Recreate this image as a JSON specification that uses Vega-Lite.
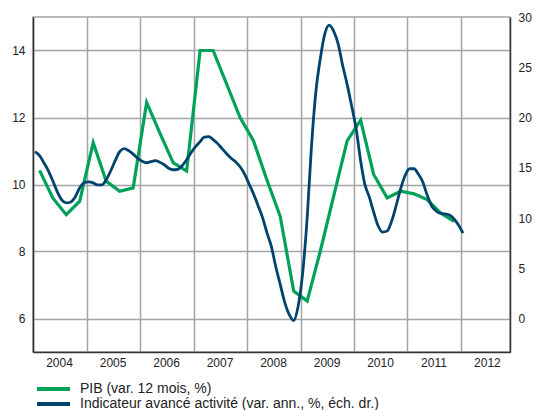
{
  "$schema": "https://vega.github.io/schema/vega-lite/v6.json",
  "width": 477,
  "height": 335,
  "autosize": {"type": "none"},
  "padding": {"left": 33, "top": 17, "right": 41, "bottom": 58},
  "background": "white",
  "config": {
    "font": "Liberation Sans",
    "view": {"stroke": "#a3a4a8", "strokeWidth": 1.5},
    "axis": {
      "labelFont": "Liberation Sans",
      "labelFontSize": 12,
      "labelColor": "#222222",
      "domainColor": "#333333",
      "domainWidth": 1.5,
      "gridColor": "#a3a4a8",
      "gridWidth": 1.5,
      "gridOpacity": 1,
      "ticks": false,
      "title": null
    }
  },
  "datasets": {
    "pib": [
      {"date": "2004-02-15", "value": 10.42},
      {"date": "2004-05-15", "value": 9.6},
      {"date": "2004-08-15", "value": 9.1},
      {"date": "2004-11-15", "value": 9.5},
      {"date": "2005-02-15", "value": 11.25},
      {"date": "2005-05-15", "value": 10.1},
      {"date": "2005-08-15", "value": 9.8},
      {"date": "2005-11-15", "value": 9.9},
      {"date": "2006-02-15", "value": 12.45},
      {"date": "2006-05-15", "value": 11.55},
      {"date": "2006-08-15", "value": 10.65},
      {"date": "2006-11-15", "value": 10.4},
      {"date": "2007-02-15", "value": 14.0},
      {"date": "2007-05-15", "value": 14.0},
      {"date": "2007-08-15", "value": 13.0},
      {"date": "2007-11-15", "value": 12.0},
      {"date": "2008-02-15", "value": 11.3},
      {"date": "2008-05-15", "value": 10.15},
      {"date": "2008-08-15", "value": 9.05},
      {"date": "2008-11-15", "value": 6.82},
      {"date": "2009-02-15", "value": 6.52},
      {"date": "2009-05-15", "value": 8.0},
      {"date": "2009-08-15", "value": 9.65},
      {"date": "2009-11-15", "value": 11.3},
      {"date": "2010-02-15", "value": 11.92},
      {"date": "2010-05-15", "value": 10.3},
      {"date": "2010-08-15", "value": 9.6},
      {"date": "2010-11-15", "value": 9.8},
      {"date": "2011-02-15", "value": 9.72},
      {"date": "2011-05-15", "value": 9.55},
      {"date": "2011-08-15", "value": 9.15},
      {"date": "2011-11-15", "value": 8.9}
    ],
    "ind": [
      {"date": "2004-01-15", "value": 16.6},
      {"date": "2004-02-15", "value": 16.2},
      {"date": "2004-03-15", "value": 15.5},
      {"date": "2004-04-15", "value": 14.7},
      {"date": "2004-05-15", "value": 13.7},
      {"date": "2004-06-15", "value": 12.6},
      {"date": "2004-07-15", "value": 11.8},
      {"date": "2004-08-15", "value": 11.5},
      {"date": "2004-09-15", "value": 11.6},
      {"date": "2004-10-15", "value": 12.1},
      {"date": "2004-11-15", "value": 13.0},
      {"date": "2004-12-15", "value": 13.5},
      {"date": "2005-01-15", "value": 13.6},
      {"date": "2005-02-15", "value": 13.5},
      {"date": "2005-03-15", "value": 13.3},
      {"date": "2005-04-15", "value": 13.3},
      {"date": "2005-05-15", "value": 13.8},
      {"date": "2005-06-15", "value": 14.7},
      {"date": "2005-07-15", "value": 15.7},
      {"date": "2005-08-15", "value": 16.6},
      {"date": "2005-09-15", "value": 16.9},
      {"date": "2005-10-15", "value": 16.7},
      {"date": "2005-11-15", "value": 16.35},
      {"date": "2005-12-15", "value": 15.95},
      {"date": "2006-01-15", "value": 15.65},
      {"date": "2006-02-15", "value": 15.5},
      {"date": "2006-03-15", "value": 15.6},
      {"date": "2006-04-15", "value": 15.7},
      {"date": "2006-05-15", "value": 15.55},
      {"date": "2006-06-15", "value": 15.3},
      {"date": "2006-07-15", "value": 14.95},
      {"date": "2006-08-15", "value": 14.8},
      {"date": "2006-09-15", "value": 14.85},
      {"date": "2006-10-15", "value": 15.2},
      {"date": "2006-11-15", "value": 15.8},
      {"date": "2006-12-15", "value": 16.5},
      {"date": "2007-01-15", "value": 17.1},
      {"date": "2007-02-15", "value": 17.6},
      {"date": "2007-03-15", "value": 18.05},
      {"date": "2007-04-15", "value": 18.1},
      {"date": "2007-05-15", "value": 17.8},
      {"date": "2007-06-15", "value": 17.4},
      {"date": "2007-07-15", "value": 16.9},
      {"date": "2007-08-15", "value": 16.4},
      {"date": "2007-09-15", "value": 15.95},
      {"date": "2007-10-15", "value": 15.6},
      {"date": "2007-11-15", "value": 15.1},
      {"date": "2007-12-15", "value": 14.4},
      {"date": "2008-01-15", "value": 13.4},
      {"date": "2008-02-15", "value": 12.4},
      {"date": "2008-03-15", "value": 11.3},
      {"date": "2008-04-15", "value": 10.1},
      {"date": "2008-05-15", "value": 8.6},
      {"date": "2008-06-15", "value": 7.2},
      {"date": "2008-07-15", "value": 5.2},
      {"date": "2008-08-15", "value": 3.4},
      {"date": "2008-09-15", "value": 1.6},
      {"date": "2008-10-15", "value": 0.4},
      {"date": "2008-11-15", "value": -0.2},
      {"date": "2008-12-15", "value": 1.2},
      {"date": "2009-01-15", "value": 4.5},
      {"date": "2009-02-15", "value": 10.0},
      {"date": "2009-03-15", "value": 16.8},
      {"date": "2009-04-15", "value": 22.5},
      {"date": "2009-05-15", "value": 25.8},
      {"date": "2009-06-15", "value": 28.3},
      {"date": "2009-07-15", "value": 29.2},
      {"date": "2009-08-15", "value": 28.6},
      {"date": "2009-09-15", "value": 27.3},
      {"date": "2009-10-15", "value": 25.2},
      {"date": "2009-11-15", "value": 23.3},
      {"date": "2009-12-15", "value": 21.2},
      {"date": "2010-01-15", "value": 18.9},
      {"date": "2010-02-15", "value": 15.7},
      {"date": "2010-03-15", "value": 13.4},
      {"date": "2010-04-15", "value": 12.1},
      {"date": "2010-05-15", "value": 10.6},
      {"date": "2010-06-15", "value": 9.2},
      {"date": "2010-07-15", "value": 8.6},
      {"date": "2010-08-15", "value": 8.7},
      {"date": "2010-09-15", "value": 9.7},
      {"date": "2010-10-15", "value": 11.2},
      {"date": "2010-11-15", "value": 12.9},
      {"date": "2010-12-15", "value": 14.2},
      {"date": "2011-01-15", "value": 14.9},
      {"date": "2011-02-15", "value": 14.9},
      {"date": "2011-03-15", "value": 14.4},
      {"date": "2011-04-15", "value": 13.6},
      {"date": "2011-05-15", "value": 12.3},
      {"date": "2011-06-15", "value": 11.2},
      {"date": "2011-07-15", "value": 10.7},
      {"date": "2011-08-15", "value": 10.45},
      {"date": "2011-09-15", "value": 10.4},
      {"date": "2011-10-15", "value": 10.3},
      {"date": "2011-11-15", "value": 9.9},
      {"date": "2011-12-15", "value": 9.3},
      {"date": "2012-01-15", "value": 8.5}
    ]
  },
  "encoding": {
    "x": {
      "field": "date",
      "type": "temporal",
      "scale": {"domain": ["2004-01-01", "2012-12-01"]},
      "axis": {
        "values": ["2004-01-01", "2005-01-01", "2006-01-01", "2007-01-01", "2008-01-01", "2009-01-01", "2010-01-01", "2011-01-01", "2012-01-01"],
        "format": "%Y",
        "labelOffset": 26,
        "labelAlign": "center",
        "labelFlush": false,
        "labelOverlap": false,
        "labelBound": false,
        "labelPadding": 5,
        "grid": true
      }
    }
  },
  "layer": [
    {
      "data": {"name": "pib"},
      "transform": [{"calculate": "'PIB (var. 12 mois, %)'", "as": "serie"}],
      "mark": {"type": "line", "strokeWidth": 3.2, "interpolate": "linear"},
      "encoding": {
        "y": {
          "field": "value",
          "type": "quantitative",
          "scale": {"domain": [5, 15], "nice": false, "zero": false},
          "axis": {"orient": "left", "values": [6, 8, 10, 12, 14], "grid": true, "labelPadding": 8}
        },
        "color": {
          "field": "serie",
          "type": "nominal",
          "scale": {
            "domain": ["PIB (var. 12 mois, %)", "Indicateur avancé activité (var. ann., %, éch. dr.)"],
            "range": ["#00a159", "#00436e"]
          },
          "legend": {
            "title": null,
            "orient": "none",
            "legendX": 13.5,
            "legendY": 365,
            "direction": "vertical",
            "symbolType": "M-3.3,0L3.3,0",
            "symbolSize": 100,
            "symbolStrokeWidth": 4,
            "symbolOffset": 0,
            "labelFont": "Liberation Sans",
            "labelFontSize": 14,
            "labelColor": "#222222",
            "labelOffset": 19.5,
            "labelLimit": 0,
            "rowPadding": -1,
            "padding": 0
          }
        }
      }
    },
    {
      "data": {"name": "ind"},
      "transform": [{"calculate": "'Indicateur avancé activité (var. ann., %, éch. dr.)'", "as": "serie"}],
      "mark": {"type": "line", "strokeWidth": 2.8, "interpolate": "monotone"},
      "encoding": {
        "y": {
          "field": "value",
          "type": "quantitative",
          "scale": {"domain": [-3.333, 30], "nice": false, "zero": false},
          "axis": {"orient": "right", "values": [0, 5, 10, 15, 20, 25, 30], "grid": false, "labelPadding": 8}
        },
        "color": {"field": "serie", "type": "nominal"}
      }
    }
  ],
  "resolve": {"scale": {"y": "independent"}}
}
